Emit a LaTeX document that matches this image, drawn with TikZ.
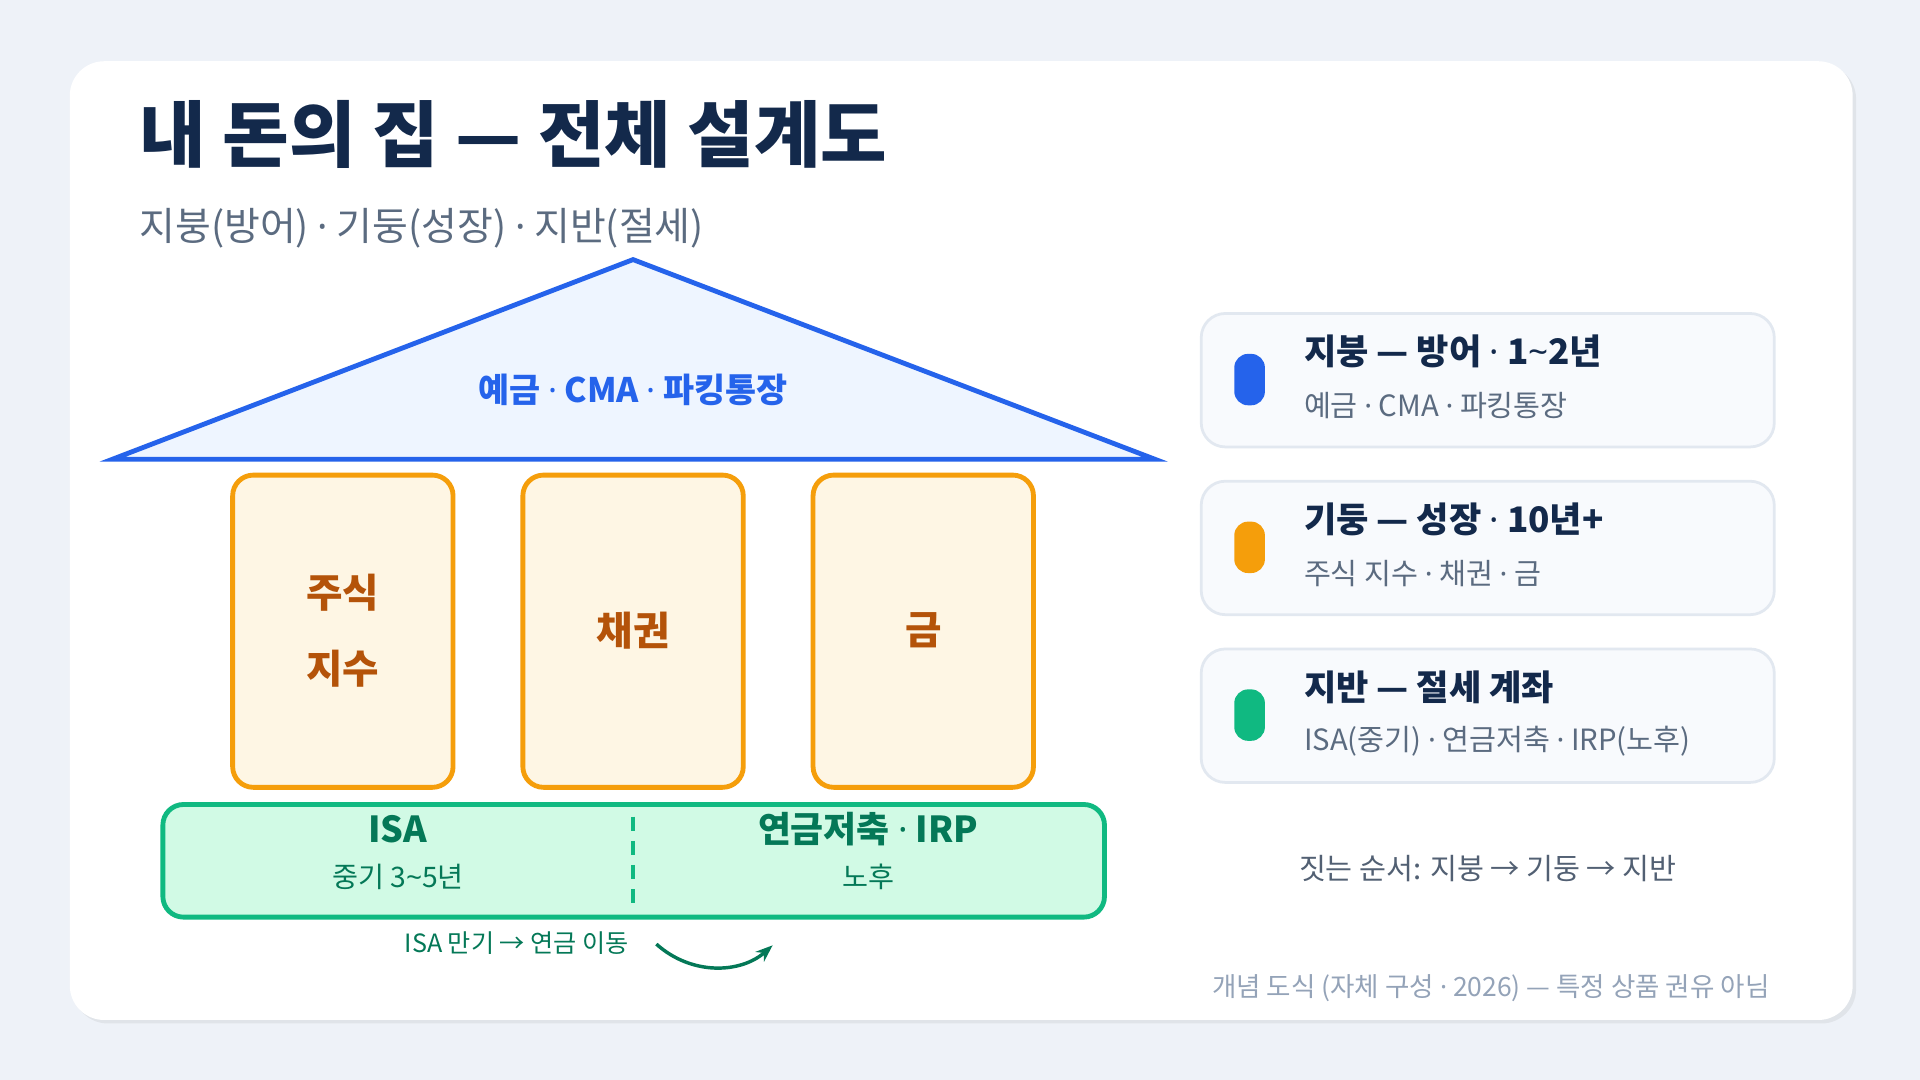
\documentclass[tikz,border=0pt]{standalone}
\usepackage{fontspec}
\setmainfont{Noto Sans CJK KR}
\newfontfamily\latinfont{Noto Sans}
\newcommand{\md}{{\latinfont ·}}
\newcommand{\tl}{{\latinfont\char"007E}}
\usetikzlibrary{arrows.meta,positioning,shadows}
\definecolor{bgpage}{HTML}{EEF2F8}
\definecolor{navy}{HTML}{13294B}
\definecolor{slate}{HTML}{5B6B80}
\definecolor{roofblue}{HTML}{2563EB}
\definecolor{roofbg}{HTML}{EEF5FF}
\definecolor{pillarstroke}{HTML}{F59E0B}
\definecolor{pillarbg}{HTML}{FEF6E4}
\definecolor{pillartext}{HTML}{B45309}
\definecolor{groundstroke}{HTML}{10B981}
\definecolor{groundbg}{HTML}{D1FAE5}
\definecolor{groundtext}{HTML}{047857}
\definecolor{cardbg}{HTML}{F8FAFD}
\definecolor{cardline}{HTML}{E2E8F0}
\definecolor{footgray}{HTML}{94A3B8}
\tikzset{
  pillar/.style={draw=pillarstroke, fill=pillarbg, line width=1.4pt, rounded corners=6pt},
  pillarlabel/.style={text=pillartext, font=\bfseries\fontsize{11.5}{22}\selectfont, align=center},
  legendcard/.style={draw=cardline, fill=cardbg, line width=0.8pt, rounded corners=7pt},
  legendtitle/.style={anchor=west, text=navy, font=\bfseries\fontsize{10.2}{12}\selectfont},
  legendsub/.style={anchor=west, text=slate, font=\fontsize{8.5}{10}\selectfont},
}
\begin{document}
\begin{tikzpicture}[x=0.0125cm, y=-0.0125cm]
    % Fond et carte
    \useasboundingbox[fill=bgpage] (0,0) rectangle (1568,882);
    \fill[white, rounded corners=10pt, drop shadow={opacity=0.12, shadow xshift=1pt, shadow yshift=-1pt}]
        (57,50) rectangle (1513,833);

    % Titres
    \node[anchor=west, text=navy, font=\bfseries\fontsize{21}{26}\selectfont] (title) at (104,110) {내 돈의 집 — 전체 설계도};
    \node[anchor=west, text=slate, font=\fontsize{11.3}{14}\selectfont] (subtitle) at (104,186) {지붕(방어) \md{} 기둥(성장) \md{} 지반(절세)};

    % Toit
    \draw[draw=roofblue, fill=roofbg, line width=1.4pt, line join=miter] (517,212) -- (92,375) -- (943,375) -- cycle;
    \node[text=roofblue, font=\bfseries\fontsize{9.8}{12}\selectfont] (roof) at (517,318) {예금 \md{} CMA \md{} 파킹통장};

    % Piliers
    \foreach \name/\x/\txt in {stock/280/{주식\\지수}, bond/517/{채권}, gold/754/{금}} {
        \draw[pillar] (\x-90,388) rectangle (\x+90,643);
        \node[pillarlabel] (\name) at (\x,515) {\txt};
    }

    % Fondation
    \draw[draw=groundstroke, fill=groundbg, line width=1.4pt, rounded corners=6pt] (133,657) rectangle (902,749);
    \draw[groundstroke, line width=1pt, dash pattern=on 4pt off 3pt] (517,667) -- (517,740);
    \node[text=groundtext, font=\bfseries\fontsize{10.4}{13}\selectfont] (isa) at (325,677) {ISA};
    \node[text=groundtext, font=\fontsize{8.2}{10}\selectfont] (isasub) at (325,716) {중기 3\tl5년};
    \node[text=groundtext, font=\bfseries\fontsize{10.4}{13}\selectfont] (irp) at (709,677) {연금저축 \md{} IRP};
    \node[text=groundtext, font=\fontsize{8.2}{10}\selectfont] (irpsub) at (709,716) {노후};

    % Transfert
    \node[text=groundtext, font=\fontsize{7.3}{10}\selectfont] (move) at (422,770) {ISA 만기 → 연금 이동};
    \coordinate (movestart) at (536,771);
    \coordinate (moveend) at (631,772);
    \draw[groundtext, line width=1pt, -{Stealth[length=5pt]}] (movestart) .. controls (565,797) and (605,795) .. (moveend);

    % Légende
    \foreach \i/\y/\col/\head/\sub in {
        roof/256/roofblue/{지붕 — 방어 \md{} 1\tl2년}/{예금 \md{} CMA \md{} 파킹통장},
        pillar/393/pillarstroke/{기둥 — 성장 \md{} 10년+}/{주식 지수 \md{} 채권 \md{} 금},
        ground/530/groundstroke/{지반 — 절세 계좌}/{ISA(중기) \md{} 연금저축 \md{} IRP(노후)}} {
        \draw[legendcard] (981,\y) rectangle (1449,\y+109);
        \fill[\col, rounded corners=4pt] (1008,\y+33) rectangle (1033,\y+75);
        \node[legendtitle] (\i title) at (1055,\y+31) {\head};
        \node[legendsub] (\i sub) at (1055,\y+75) {\sub};
    }

    \node[text=slate!90!black, font=\fontsize{8.5}{12}\selectfont] (order) at (1215,709) {짓는 순서: 지붕 → 기둥 → 지반};
    \node[anchor=east, text=footgray, font=\fontsize{7.7}{10}\selectfont] (footer) at (1455,807) {개념 도식 (자체 구성 \md{} 2026) — 특정 상품 권유 아님};
\end{tikzpicture}
\end{document}
